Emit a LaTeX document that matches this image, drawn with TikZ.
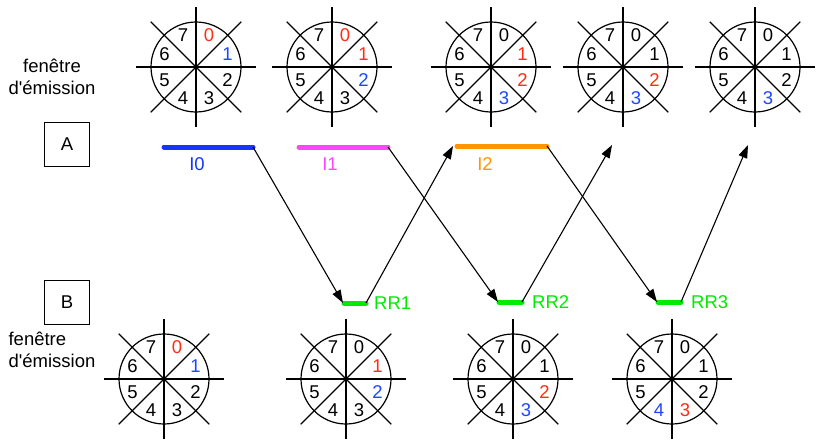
\documentclass[tikz,border=0pt]{standalone}
\usepackage{fontspec}
\setmainfont{Liberation Sans}[Ligatures=TeXOff]
\usepackage{tikz}
\usetikzlibrary{arrows.meta,calc}

\definecolor{rouge}{RGB}{255,45,20}
\definecolor{bleu}{RGB}{30,70,255}
\definecolor{barbleu}{RGB}{20,55,255}
\definecolor{rose}{RGB}{255,70,255}
\definecolor{orangeI}{RGB}{255,150,0}
\definecolor{vert}{RGB}{0,235,0}

% une fenetre d'emission : nom, centre, couleurs des chiffres 0..7
\newcommand{\fenetre}[3]{%
  \coordinate (#1) at #2;
  \draw[rayon] (#1) circle[radius=45];
  \foreach \a/\l in {0/60,45/64,90/60,135/64}
    \draw[rayon] ($(#1)+(\a:\l)$) -- ($(#1)+(\a+180:\l)$);
  \foreach \c [count=\i from 0] in {#3}
    \node[chiffre, text=\c] (#1-\i) at ($(#1)+({45*\i-67.5}:34)$) {\i};
}

\begin{document}
\begin{tikzpicture}[
  x=1pt, y=-1pt,
  every node/.style={font=\fontsize{18.5}{22}\selectfont},
  rayon/.style={line width=1.2pt},
  chiffre/.style={inner sep=0pt},
  boite/.style={draw, line width=1pt, minimum width=45pt, minimum height=44pt},
  barre/.style={line width=5pt, line cap=round},
  arr/.style={-{Triangle[length=13pt,width=9pt]}, line width=1.1pt}
]
\useasboundingbox (0,0) rectangle (816,439);

% fenetres du haut (A)
\fenetre{h1}{(196,67)}{rouge,bleu,black,black,black,black,black,black}
\fenetre{h2}{(332,67)}{rouge,rouge,bleu,black,black,black,black,black}
\fenetre{h3}{(491,67)}{black,rouge,rouge,bleu,black,black,black,black}
\fenetre{h4}{(623,67)}{black,black,rouge,bleu,black,black,black,black}
\fenetre{h5}{(755,67)}{black,black,black,bleu,black,black,black,black}

% fenetres du bas (B)
\fenetre{b1}{(164,379)}{rouge,bleu,black,black,black,black,black,black}
\fenetre{b2}{(346,379)}{black,rouge,bleu,black,black,black,black,black}
\fenetre{b3}{(513,379)}{black,black,rouge,bleu,black,black,black,black}
\fenetre{b4}{(672,379)}{black,black,black,rouge,bleu,black,black,black}

\node[align=center] (fenA) at (52,77) {fenêtre\\d'émission};
\node[align=left] (fenB) at (52,350) {fenêtre\\d'émission};
\node[boite] (A) at (67,144) {A};
\node[boite] (B) at (67,302) {B};

% trames
\coordinate (i0g) at (164,147); \coordinate (i0d) at (253,147);
\coordinate (i1g) at (299,147); \coordinate (i1d) at (388,147);
\coordinate (i2g) at (457,146); \coordinate (i2d) at (547,146);
\coordinate (rr1g) at (344,303); \coordinate (rr1d) at (366,303);
\coordinate (rr2g) at (499,302); \coordinate (rr2d) at (522,302);
\coordinate (rr3g) at (658,302); \coordinate (rr3d) at (681,302);
\coordinate (libre1) at (612,145);
\coordinate (libre2) at (748,145);

\draw[barre, barbleu] (i0g) -- (i0d);
\draw[barre, rose] (i1g) -- (i1d);
\draw[barre, orangeI] (i2g) -- (i2d);
\draw[barre, vert] (rr1g) -- (rr1d);
\draw[barre, vert] (rr2g) -- (rr2d);
\draw[barre, vert] (rr3g) -- (rr3d);

\node[text=barbleu] (I0) at (197,164) {I0};
\node[text=rose] (I1) at (330,164) {I1};
\node[text=orangeI] (I2) at (485,164) {I2};
\node[text=vert, anchor=west, inner sep=0pt] (RR1) at (374,303) {RR1};
\node[text=vert, anchor=west, inner sep=0pt] (RR2) at (532,302) {RR2};
\node[text=vert, anchor=west, inner sep=0pt] (RR3) at (691,302) {RR3};

\draw[arr] (i0d) -- ([xshift=-1pt]rr1g);
\draw[arr] (i1d) -- ([xshift=-1pt]rr2g);
\draw[arr] (i2d) -- ([xshift=-1pt]rr3g);
\draw[arr] (rr1d) -- ([xshift=-4pt]i2g);
\draw[arr] (rr2d) -- (libre1);
\draw[arr] (rr3d) -- (libre2);
\end{tikzpicture}
\end{document}
